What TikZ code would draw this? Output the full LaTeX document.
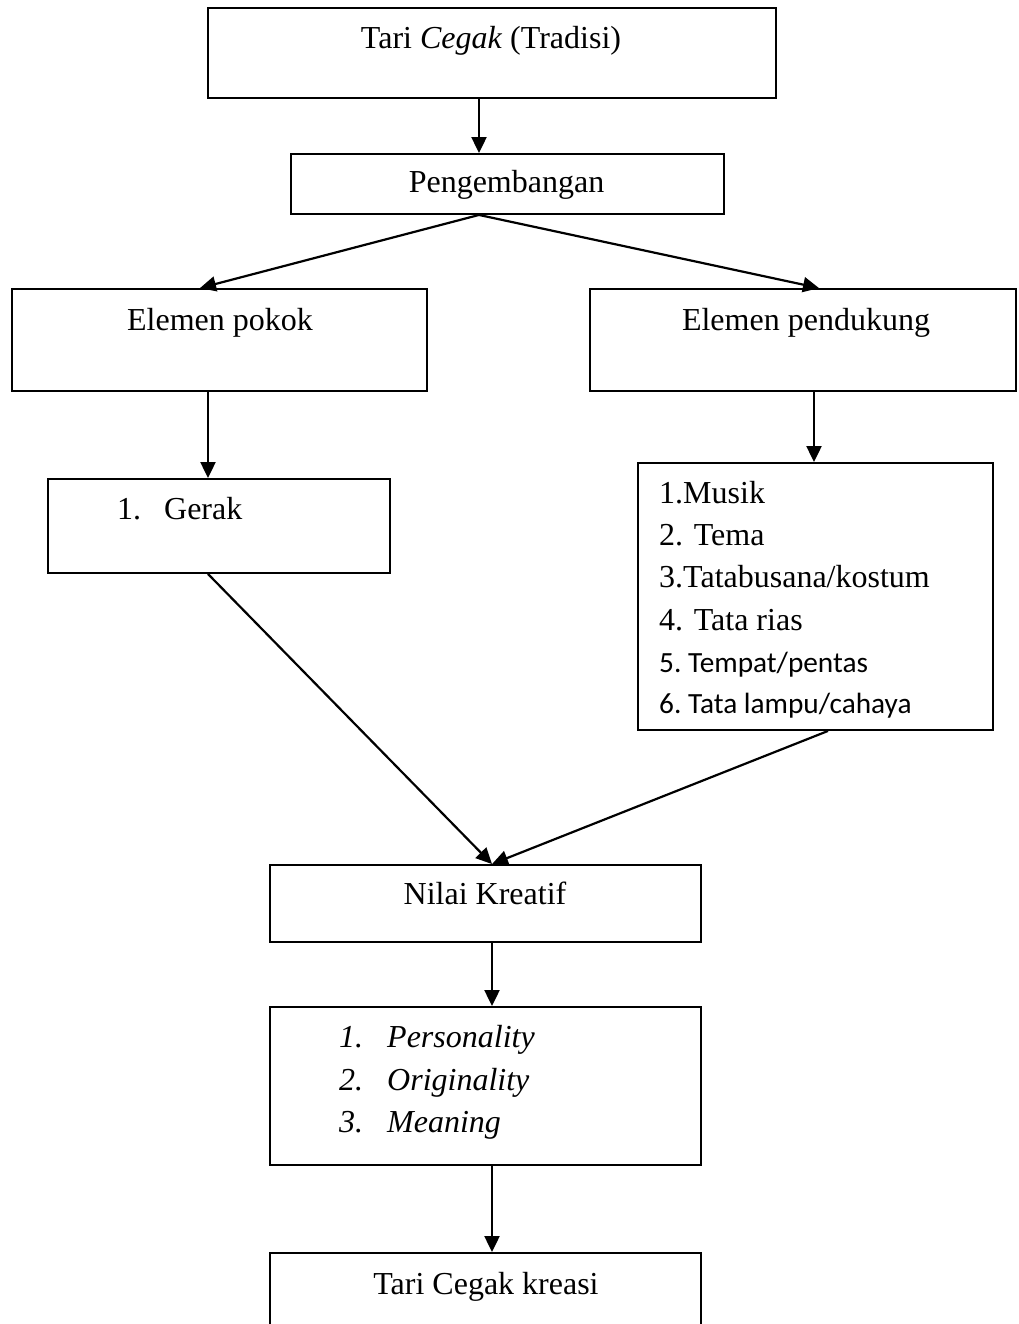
\documentclass[tikz,border=0pt]{standalone}
\usepackage{fontspec}
\setmainfont{Liberation Serif}
\newfontfamily\calfont{Carlito}
\usetikzlibrary{arrows.meta}
\begin{document}
\begin{tikzpicture}[x=1pt,y=-1pt,
  box/.style={draw=black, line width=1.9pt, rectangle, inner sep=0pt, fill=none},
  txt/.style={anchor=base, inner sep=0pt, font=\fontsize{32}{38}\selectfont},
  ltxt/.style={anchor=base west, inner sep=0pt, font=\fontsize{32}{38}\selectfont},
  stxt/.style={anchor=base west, inner sep=0pt, font=\calfont\fontsize{29.3}{35}\selectfont\frenchspacing},
  arr/.style={line width=2.2pt, -{Triangle[length=16pt,width=15pt]}}]
\useasboundingbox (0,0) rectangle (1019,1324);
\clip (0,0) rectangle (1019,1324);
\fill[white] (0,0) rectangle (1019,1324);

% boxes
\node[box, minimum width=568pt, minimum height=90pt] (b1) at (492,53) {};
\node[box, minimum width=433pt, minimum height=60pt] (b2) at (507.5,184) {};
\node[box, minimum width=415pt, minimum height=102pt] (b3) at (219.5,340) {};
\node[box, minimum width=426pt, minimum height=102pt] (b4) at (803,340) {};
\node[box, minimum width=342pt, minimum height=94pt] (b5) at (219,526) {};
\node[box, minimum width=355pt, minimum height=267pt] (b6) at (815.5,596.5) {};
\node[box, minimum width=431pt, minimum height=77pt] (b7) at (485.5,903.5) {};
\node[box, minimum width=431pt, minimum height=158pt] (b8) at (485.5,1086) {};
\node[box, minimum width=431pt, minimum height=107pt] (b9) at (485.5,1306.5) {};

% texts
\node[txt] (t1) at (491,49) {Tari \textit{Cegak} (Tradisi)};
\node[txt] (t2) at (506.5,193) {Pengembangan};
\node[txt] (t3) at (220,330) {Elemen pokok};
\node[txt] (t4) at (806,330) {Elemen pendukung};
\node[ltxt] (t5) at (117,519) {\makebox[47pt][l]{1.}Gerak};
\node[ltxt] (m1) at (659,503) {1.Musik};
\node[ltxt] (m2) at (659,545) {2. Tema};
\node[ltxt] (m3) at (659,587) {3.Tatabusana/kostum};
\node[ltxt] (m4) at (659,630) {4. Tata rias};
\node[stxt] (m5) at (659,672) {5. Tempat/pentas};
\node[stxt] (m6) at (659,713) {6. Tata lampu/cahaya};
\node[txt] (t7) at (485,904) {Nilai Kreatif};
\node[ltxt] (p1) at (339,1047) {\itshape\makebox[48pt][l]{1.}Personality};
\node[ltxt] (p2) at (339,1090) {\itshape\makebox[48pt][l]{2.}Originality};
\node[ltxt] (p3) at (339,1132) {\itshape\makebox[48pt][l]{3.}Meaning};
\node[txt] (t9) at (486,1294) {Tari Cegak kreasi};

% connector x positions
\coordinate (xa) at (479,0);
\coordinate (xb) at (200,0);
\coordinate (xc) at (819,0);
\coordinate (xd) at (208,0);
\coordinate (xe) at (814,0);
\coordinate (xf) at (492,0);
\coordinate (xg) at (828,0);

% connectors
\draw[arr] (xa |- b1.south) -- (xa |- b2.north);
\draw[arr] (xa |- b2.south) -- (xb |- b3.north);
\draw[arr] (xa |- b2.south) -- (xc |- b4.north);
\draw[arr] (xd |- b3.south) -- (xd |- b5.north);
\draw[arr] (xe |- b4.south) -- (xe |- b6.north);
\draw[arr] (xd |- b5.south) -- (xf |- b7.north);
\draw[arr] (xg |- b6.south) -- (xf |- b7.north);
\draw[arr] (xf |- b7.south) -- (xf |- b8.north);
\draw[arr] (xf |- b8.south) -- (xf |- b9.north);
\end{tikzpicture}
\end{document}
